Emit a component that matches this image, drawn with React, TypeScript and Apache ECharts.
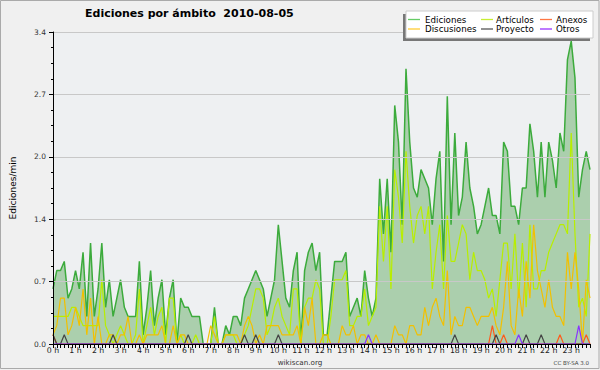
import React, { useEffect, useRef } from "react";
import * as echarts from "echarts";

const TITLE = "Ediciones por ámbito  2010-08-05";
const Y_NAME = "Ediciones/min";
const HOUR_LABELS = [
  "0 h", "1 h", "2 h", "3 h", "4 h", "5 h", "6 h", "7 h", "8 h", "9 h", "10 h", "11 h",
  "12 h", "13 h", "14 h", "15 h", "16 h", "17 h", "18 h", "19 h", "20 h", "21 h", "22 h", "23 h",
];
const MINUTES = ["00", "10", "20", "30", "40", "50"];
const TIMES: string[] = [];
HOUR_LABELS.forEach((_, h) => MINUTES.forEach((m) => TIMES.push(`${h}:${m}`)));

const EDICIONES = [
  0.6, 0.8, 0.8, 0.9, 0.5, 0.6, 0.8, 0.6, 1.0, 0.3,
  1.1, 0.3, 0.6, 1.1, 0.4, 0.7, 0.3, 0.5, 0.7, 0.4,
  0.3, 0.3, 0.3, 0.9, 0.1, 0.4, 0.8, 0.2, 0.5, 0.7,
  0.1, 0.5, 0.7, 0.0, 0.5, 0.4, 0.4, 0.3, 0.3, 0.3,
  0.0, 0.0, 0.0, 0.4, 0.0, 0.0, 0.2, 0.1, 0.3, 0.3,
  0.2, 0.5, 0.6, 0.7, 0.8, 0.7, 0.6, 0.3, 0.5, 0.7,
  1.3, 0.9, 0.5, 0.4, 0.8, 1.0, 0.0, 0.8, 1.0, 1.1,
  0.8, 1.0, 0.1, 0.1, 0.5, 0.9, 0.9, 0.9, 1.0, 0.3,
  0.4, 0.5, 0.3, 0.8, 0.5, 0.3, 0.5, 1.8, 1.2, 1.8,
  1.0, 2.6, 2.2, 1.3, 3.0, 2.2, 1.7, 1.6, 1.9, 1.8,
  1.7, 1.3, 1.8, 2.1, 0.9, 2.7, 1.3, 2.3, 1.4, 1.6,
  2.2, 1.7, 1.5, 1.2, 1.3, 1.5, 1.7, 1.4, 1.4, 1.2,
  2.2, 2.1, 1.5, 1.5, 1.3, 1.7, 1.7, 2.4, 2.1, 1.6,
  2.2, 1.6, 2.2, 2.0, 1.7, 2.3, 2.1, 3.1, 3.3, 2.9,
  1.6, 1.9, 2.1, 1.9,
];

const ARTICULOS = [
  0.3, 0.3, 0.3, 0.3, 0.3, 0.4, 0.4, 0.3, 0.2, 0.2,
  0.2, 0.2, 0.2, 0.7, 0.2, 0.1, 0.0, 0.1, 0.2, 0.1,
  0.0, 0.0, 0.1, 0.6, 0.0, 0.2, 0.4, 0.1, 0.3, 0.4,
  0.0, 0.5, 0.5, 0.0, 0.1, 0.0, 0.0, 0.0, 0.1, 0.0,
  0.0, 0.0, 0.0, 0.3, 0.0, 0.0, 0.1, 0.1, 0.1, 0.0,
  0.0, 0.1, 0.2, 0.4, 0.6, 0.6, 0.5, 0.1, 0.2, 0.4,
  0.5, 0.3, 0.2, 0.1, 0.6, 0.6, 0.0, 0.4, 0.5, 0.5,
  0.7, 0.6, 0.0, 0.0, 0.3, 0.7, 0.7, 0.7, 0.8, 0.2,
  0.2, 0.3, 0.3, 0.6, 0.2, 0.3, 0.4, 1.5, 0.9, 1.5,
  0.6, 1.9, 1.6, 1.1, 2.1, 1.5, 1.1, 1.4, 1.5, 1.2,
  1.5, 0.6, 1.0, 1.3, 0.6, 1.4, 0.9, 0.9, 1.1, 1.3,
  1.2, 0.7, 1.0, 0.8, 0.8, 0.7, 0.5, 0.6, 0.3, 0.7,
  1.1, 1.1, 0.6, 1.2, 0.5, 1.1, 0.4, 1.3, 0.6, 0.6,
  0.8, 0.8, 1.0, 1.1, 1.2, 1.3, 1.3, 1.2, 2.3, 1.2,
  0.4, 0.5, 0.3, 1.2,
];

const DISCUSIONES = [
  0.1, 0.2, 0.5, 0.5, 0.1, 0.2, 0.4, 0.2, 0.6, 0.1,
  0.5, 0.0, 0.3, 0.0, 0.0, 0.1, 0.1, 0.0, 0.1, 0.1,
  0.3, 0.0, 0.0, 0.1, 0.0, 0.1, 0.1, 0.1, 0.1, 0.2,
  0.0, 0.0, 0.2, 0.0, 0.1, 0.1, 0.0, 0.0, 0.0, 0.0,
  0.0, 0.0, 0.2, 0.1, 0.0, 0.0, 0.1, 0.1, 0.1, 0.1,
  0.0, 0.2, 0.3, 0.2, 0.0, 0.1, 0.0, 0.2, 0.2, 0.2,
  0.2, 0.1, 0.1, 0.1, 0.1, 0.2, 0.0, 0.4, 0.2, 0.5,
  0.0, 0.0, 0.1, 0.1, 0.0, 0.0, 0.0, 0.2, 0.1, 0.1,
  0.2, 0.0, 0.1, 0.1, 0.0, 0.0, 0.1, 0.0, 0.0, 0.0,
  0.0, 0.2, 0.1, 0.1, 0.0, 0.2, 0.2, 0.1, 0.1, 0.4,
  0.2, 0.4, 0.5, 0.3, 0.2, 0.8, 0.1, 0.3, 0.2, 0.2,
  0.4, 0.4, 0.3, 0.2, 0.3, 0.3, 0.3, 0.4, 0.2, 0.1,
  0.4, 0.9, 0.2, 0.1, 0.6, 0.3, 0.9, 0.5, 1.3, 0.8,
  0.6, 0.4, 0.7, 0.4, 0.3, 0.3, 0.2, 1.0, 0.6, 1.0,
  0.6, 0.0, 0.7, 0.5,
];

const ANEXOS = [
  0.1, 0, 0, 0, 0, 0, 0, 0, 0, 0,
  0, 0, 0, 0, 0, 0, 0, 0, 0, 0,
  0, 0, 0, 0, 0, 0, 0, 0, 0, 0,
  0, 0, 0, 0, 0, 0, 0, 0, 0, 0,
  0, 0, 0, 0, 0, 0, 0, 0, 0, 0,
  0, 0, 0, 0, 0, 0, 0, 0, 0, 0,
  0, 0, 0, 0, 0, 0, 0, 0, 0, 0,
  0, 0, 0, 0, 0, 0, 0, 0, 0, 0,
  0, 0, 0, 0, 0, 0, 0, 0, 0, 0,
  0, 0, 0, 0, 0, 0, 0, 0, 0, 0,
  0, 0, 0, 0, 0, 0, 0, 0, 0, 0,
  0, 0, 0, 0, 0, 0, 0, 0.2, 0, 0,
  0.1, 0, 0, 0, 0, 0, 0, 0, 0, 0,
  0, 0, 0, 0, 0, 0.1, 0, 0, 0, 0,
  0, 0, 0.1, 0,
];

const PROYECTO = [
  0.1, 0, 0, 0.1, 0, 0, 0, 0, 0, 0,
  0, 0, 0, 0, 0, 0, 0.1, 0, 0, 0,
  0, 0, 0, 0, 0, 0, 0, 0, 0, 0,
  0, 0, 0, 0, 0, 0, 0.1, 0, 0, 0,
  0, 0, 0, 0, 0, 0, 0, 0, 0, 0,
  0, 0.1, 0, 0, 0.1, 0, 0, 0, 0, 0,
  0.1, 0, 0, 0, 0, 0, 0, 0, 0, 0,
  0, 0, 0, 0, 0, 0, 0, 0, 0, 0,
  0, 0, 0, 0, 0, 0, 0, 0, 0, 0,
  0, 0, 0, 0, 0, 0, 0, 0, 0, 0,
  0, 0, 0, 0, 0, 0, 0, 0.1, 0, 0,
  0, 0, 0, 0, 0, 0, 0, 0, 0.1, 0,
  0, 0, 0, 0, 0, 0, 0.1, 0, 0, 0,
  0.1, 0, 0, 0, 0, 0, 0, 0, 0, 0,
  0, 0, 0, 0,
];

const OTROS = [
  0, 0, 0, 0, 0, 0, 0, 0, 0, 0,
  0, 0, 0, 0, 0, 0, 0, 0, 0, 0,
  0, 0, 0, 0, 0, 0, 0, 0, 0, 0,
  0, 0, 0, 0, 0, 0, 0, 0, 0, 0,
  0, 0, 0, 0, 0, 0, 0, 0, 0, 0,
  0, 0, 0, 0, 0, 0, 0, 0, 0, 0,
  0, 0, 0, 0, 0, 0, 0, 0, 0, 0,
  0, 0, 0, 0, 0, 0, 0, 0, 0, 0,
  0, 0, 0, 0, 0.1, 0, 0, 0, 0, 0,
  0, 0, 0, 0, 0, 0, 0, 0, 0, 0,
  0, 0, 0, 0, 0, 0, 0, 0, 0, 0,
  0, 0, 0, 0, 0, 0, 0, 0, 0, 0,
  0, 0, 0, 0, 0.1, 0, 0, 0, 0, 0,
  0, 0, 0, 0, 0, 0, 0, 0, 0, 0,
  0.2, 0, 0, 0,
];

const LEGEND_NAMES = ["Ediciones", "Artículos", "Anexos", "Discusiones", "Proyecto", "Otros"];
const FONT = "DejaVu Sans";

export default function App() {
  const ref = useRef<HTMLDivElement>(null);

  useEffect(() => {
    if (!ref.current) return;
    const chart = echarts.init(ref.current, null, { renderer: "svg" });

    const mkLine = (name: string, data: number[], color: string, width: number, extra: any = {}) => ({
      name,
      type: "line",
      data,
      symbol: "none",
      showSymbol: false,
      lineStyle: { color, width },
      itemStyle: { color },
      emphasis: { disabled: true },
      ...extra,
    });

    const legendCols = [
      { x: 408, tx: 425 },
      { x: 481, tx: 496 },
      { x: 540, tx: 556 },
    ];
    const legendRows = [19.5, 29];
    const legendColors = ["#66cc66", "#c8ee33", "#ff7744", "#ffcc33", "#555555", "#9933ff"];
    const legendGraphics: any[] = [
      { type: "rect", shape: { x: 403, y: 14, width: 187, height: 27 }, style: { fill: "#777777" }, z: 100 },
      { type: "rect", shape: { x: 406, y: 11, width: 187, height: 27 }, style: { fill: "#ffffff", stroke: "#cccccc", lineWidth: 1 }, z: 101 },
    ];
    LEGEND_NAMES.forEach((name, k) => {
      const col = legendCols[k % 3];
      const y = legendRows[Math.floor(k / 3)];
      legendGraphics.push({
        type: "line",
        shape: { x1: col.x, y1: y, x2: col.x + 12, y2: y },
        style: { stroke: legendColors[k], lineWidth: 1.3 },
        z: 102,
      });
      legendGraphics.push({
        type: "text",
        x: col.tx,
        y,
        style: { text: name, fill: "#000", font: `8.7px "${FONT}"`, verticalAlign: "middle", align: "left" },
        z: 102,
      });
    });

    const option: any = {
      animation: false,
      backgroundColor: "#f0f0f0",
      title: {
        text: TITLE,
        left: 85,
        top: 8,
        padding: 0,
        textStyle: { fontFamily: FONT, fontSize: 11, fontWeight: "bold", color: "#000" },
      },
      grid: {
        left: 45,
        right: 10,
        top: 32,
        bottom: 26,
        show: true,
        backgroundColor: "#eef0f2",
        borderWidth: 0,
      },
      xAxis: {
        type: "category",
        data: TIMES,
        boundaryGap: false,
        z: 5,
        axisLine: { lineStyle: { color: "#000", width: 1 } },
        axisTick: { interval: 0, length: 4, lineStyle: { color: "#000" } },
        axisLabel: {
          interval: 5,
          formatter: (_v: string, i: number) => HOUR_LABELS[Math.floor(i / 6)],
          margin: 2,
          fontSize: 7.8,
          fontFamily: FONT,
          color: "#222",
        },
        splitLine: { show: false },
      },
      yAxis: {
        type: "value",
        min: 0,
        max: 3.4,
        interval: 0.68,
        z: 5,
        name: Y_NAME,
        nameLocation: "middle",
        nameGap: 36,
        nameRotate: 90,
        nameTextStyle: { fontFamily: FONT, fontSize: 9, color: "#000" },
        axisLine: { show: true, lineStyle: { color: "#000", width: 1 } },
        axisTick: { show: true, length: 4, lineStyle: { color: "#000" } },
        minorTick: { show: true, splitNumber: 4, length: 2, lineStyle: { color: "#000" } },
        axisLabel: {
          formatter: (v: number) => v.toFixed(1),
          fontSize: 7.5,
          fontFamily: FONT,
          margin: 7,
          color: "#333",
        },
        splitLine: { show: true, lineStyle: { color: "#c8c8c8", width: 1 } },
      },
      series: [
        mkLine(LEGEND_NAMES[0], EDICIONES, "#3cab3c", 1.5, {
          areaStyle: { color: "rgba(45,145,45,0.5)" },
        }),
        mkLine(LEGEND_NAMES[1], ARTICULOS, "#b8ee00", 1.2),
        mkLine(LEGEND_NAMES[3], DISCUSIONES, "#f2c000", 1.2),
        mkLine(LEGEND_NAMES[2], ANEXOS, "#ff5a1a", 1.2),
        mkLine(LEGEND_NAMES[4], PROYECTO, "#444444", 1.2),
        mkLine(LEGEND_NAMES[5], OTROS, "#8833ff", 1.2),
      ],
      graphic: [
        {
          type: "rect",
          shape: { x: 0.5, y: 0.5, width: 598.5, height: 368 },
          style: { fill: "none", stroke: "#aaaaaa", lineWidth: 1 },
          z: 90,
        },
        ...legendGraphics,
        {
          type: "text",
          x: 300,
          y: 362,
          style: { text: "wikiscan.org", fill: "#333", font: `7.2px "${FONT}"`, align: "center", verticalAlign: "middle" },
        },
        {
          type: "text",
          x: 589,
          y: 362.5,
          style: { text: "CC BY-SA 3.0", fill: "#444", font: `5.5px "${FONT}"`, align: "right", verticalAlign: "middle" },
        },
      ],
    };

    chart.setOption(option);
    return () => chart.dispose();
  }, []);

  return (
    <div
      ref={ref}
      style={{ position: "absolute", left: 0, top: 0, width: 600, height: 370 }}
    />
  );
}
